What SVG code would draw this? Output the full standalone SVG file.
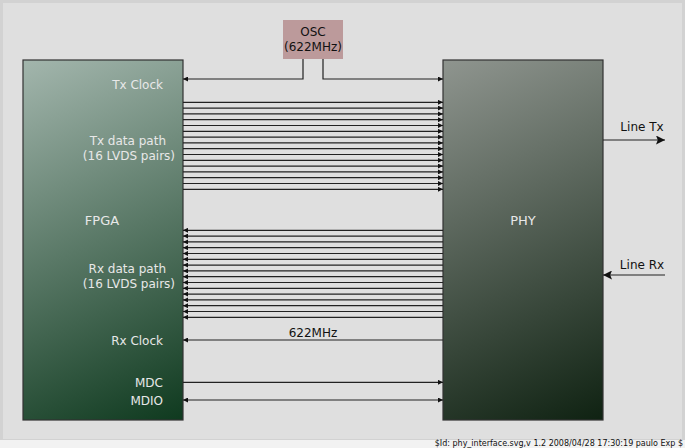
<svg xmlns="http://www.w3.org/2000/svg" width="685" height="448" viewBox="0 0 685 448">
<defs>
<linearGradient id="gF" gradientUnits="userSpaceOnUse" x1="23" y1="60" x2="183" y2="420">
<stop offset="0" stop-color="#a3b6ad"/>
<stop offset="1" stop-color="#0f3a1f"/>
</linearGradient>
<linearGradient id="gP" gradientUnits="userSpaceOnUse" x1="443" y1="60" x2="603" y2="420">
<stop offset="0" stop-color="#8f958f"/>
<stop offset="1" stop-color="#0f2212"/>
</linearGradient>
<marker id="ae" viewBox="0 0 10 10" refX="10" refY="5" markerWidth="7" markerHeight="5" markerUnits="userSpaceOnUse" orient="auto">
<path d="M0,0 L10,5 L0,10 z" fill="#111"/>
</marker>
<marker id="as" viewBox="0 0 10 10" refX="0" refY="5" markerWidth="7" markerHeight="5" markerUnits="userSpaceOnUse" orient="auto">
<path d="M10,0 L0,5 L10,10 z" fill="#111"/>
</marker>
<marker id="big" viewBox="0 0 10 10" refX="10" refY="5" markerWidth="12" markerHeight="9" markerUnits="userSpaceOnUse" orient="auto">
<path d="M0,0 L10,5 L0,10 L2,5 z" fill="#111"/>
</marker>
</defs>
<style>
text{font-family:"DejaVu Sans","Liberation Sans",sans-serif;font-size:12px}
.w{fill:#e8e8e8}
.k{fill:#111}
.box{stroke:#333;stroke-width:1.2}
.tx line{stroke-width:1.2;marker-end:url(#ae)}
.rx line{stroke-width:1.2;marker-start:url(#as)}
.c{fill:none;stroke:#222;stroke-width:1.2}
</style>
<rect x="0" y="0" width="685" height="448" fill="#d2d2d2"/>
<rect x="3" y="3" width="679" height="436" fill="#dfdfdf"/>
<rect x="0" y="440" width="685" height="8" fill="#f2f2f2"/>
<text x="683" y="446" text-anchor="end" class="k" style="font-size:8px">$Id: phy_interface.svg,v 1.2 2008/04/28 17:30:19 paulo Exp $</text>

<g id="fpga">
<rect class="box" x="23" y="60" width="160" height="360" fill="url(#gF)"/>
<text class="w" x="163" y="89" text-anchor="end">Tx Clock</text>
<text class="w" x="166" y="145" text-anchor="end">Tx data path</text>
<text class="w" x="175" y="160" text-anchor="end">(16 LVDS pairs)</text>
<text class="w" x="102" y="225" text-anchor="middle" style="font-size:13px">FPGA</text>
<text class="w" x="166" y="273" text-anchor="end">Rx data path</text>
<text class="w" x="175" y="288" text-anchor="end">(16 LVDS pairs)</text>
<text class="w" x="163" y="345" text-anchor="end">Rx Clock</text>
<text class="w" x="163" y="387" text-anchor="end">MDC</text>
<text class="w" x="163" y="405" text-anchor="end">MDIO</text>
</g>

<g id="phy">
<rect class="box" x="443" y="60" width="160" height="360" fill="url(#gP)"/>
<text class="w" x="523" y="225" text-anchor="middle" style="font-size:13px">PHY</text>
</g>

<g id="osc">
<rect x="283" y="20" width="60" height="39" fill="#bc9a9b"/>
<text class="k" x="313" y="36" text-anchor="middle">OSC</text>
<text class="k" x="313" y="51" text-anchor="middle">(622MHz)</text>
</g>

<g id="connectors">
<path class="c" d="M303,59 V79 H183" marker-end="url(#ae)"/>
<path class="c" d="M323,59 V79 H443" marker-end="url(#ae)"/>
<g class="tx" stroke="#222">
<line x1="183" y1="102.3" x2="443" y2="102.3"/>
<line x1="183" y1="108.1" x2="443" y2="108.1"/>
<line x1="183" y1="113.9" x2="443" y2="113.9"/>
<line x1="183" y1="119.7" x2="443" y2="119.7"/>
<line x1="183" y1="125.5" x2="443" y2="125.5"/>
<line x1="183" y1="131.3" x2="443" y2="131.3"/>
<line x1="183" y1="137.1" x2="443" y2="137.1"/>
<line x1="183" y1="142.9" x2="443" y2="142.9"/>
<line x1="183" y1="148.7" x2="443" y2="148.7"/>
<line x1="183" y1="154.5" x2="443" y2="154.5"/>
<line x1="183" y1="160.3" x2="443" y2="160.3"/>
<line x1="183" y1="166.1" x2="443" y2="166.1"/>
<line x1="183" y1="171.9" x2="443" y2="171.9"/>
<line x1="183" y1="177.7" x2="443" y2="177.7"/>
<line x1="183" y1="183.5" x2="443" y2="183.5"/>
<line x1="183" y1="189.3" x2="443" y2="189.3"/>
</g>
<g class="rx" stroke="#222">
<line x1="183" y1="230.3" x2="443" y2="230.3"/>
<line x1="183" y1="236.1" x2="443" y2="236.1"/>
<line x1="183" y1="241.9" x2="443" y2="241.9"/>
<line x1="183" y1="247.7" x2="443" y2="247.7"/>
<line x1="183" y1="253.5" x2="443" y2="253.5"/>
<line x1="183" y1="259.3" x2="443" y2="259.3"/>
<line x1="183" y1="265.1" x2="443" y2="265.1"/>
<line x1="183" y1="270.9" x2="443" y2="270.9"/>
<line x1="183" y1="276.7" x2="443" y2="276.7"/>
<line x1="183" y1="282.5" x2="443" y2="282.5"/>
<line x1="183" y1="288.3" x2="443" y2="288.3"/>
<line x1="183" y1="294.1" x2="443" y2="294.1"/>
<line x1="183" y1="299.9" x2="443" y2="299.9"/>
<line x1="183" y1="305.7" x2="443" y2="305.7"/>
<line x1="183" y1="311.5" x2="443" y2="311.5"/>
<line x1="183" y1="317.3" x2="443" y2="317.3"/>
</g>
<line class="c" x1="443" y1="340" x2="183" y2="340" marker-end="url(#ae)"/>
<text class="k" x="313" y="337" text-anchor="middle">622MHz</text>
<line class="c" x1="183" y1="382.3" x2="443" y2="382.3" marker-end="url(#ae)"/>
<line class="c" x1="183" y1="400" x2="443" y2="400" marker-start="url(#as)" marker-end="url(#ae)"/>
<line class="c" x1="603" y1="140" x2="665" y2="140" marker-end="url(#big)"/>
<text class="k" x="642" y="131" text-anchor="middle">Line Tx</text>
<line class="c" x1="665" y1="275" x2="603" y2="275" marker-end="url(#big)"/>
<text class="k" x="642" y="269" text-anchor="middle">Line Rx</text>
</g>
</svg>
